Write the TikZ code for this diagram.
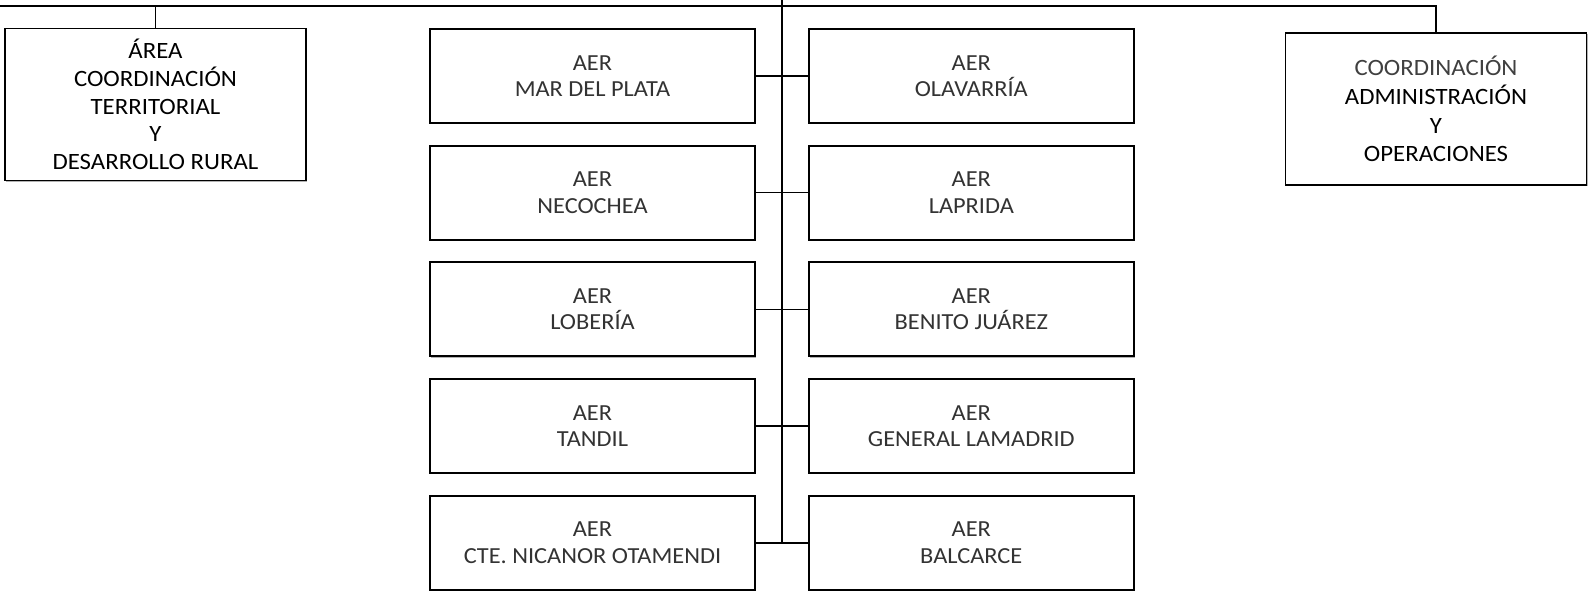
\documentclass[tikz,border=0pt]{standalone}
\usepackage{fontspec}
\setmainfont{Carlito}[FakeStretch=1.06]
\usetikzlibrary{positioning,calc,shadows}

\begin{document}
\begin{tikzpicture}[x=0.5pt,y=-0.5pt,
		boxshadow/.style={drop shadow={shadow xshift=0.6pt, shadow yshift=-0.6pt, fill=black!30, opacity=1}},
		aerbox/.style={draw, line width=0.9pt, fill=white, boxshadow, minimum width=162.5pt, minimum height=47pt,
				align=center, text=black!80, font=\fontsize{11.5}{13.2}\selectfont, inner sep=0pt},
		headbox/.style={draw, line width=0.9pt, fill=white, boxshadow, minimum width=150.5pt, minimum height=76pt,
				align=center, font=\fontsize{11.7}{14.4}\selectfont, inner sep=0pt},
		link/.style={line width=0.8pt}]
	\useasboundingbox (0,0) rectangle (1590,598);

	% head units
	\node[headbox, font=\fontsize{11.7}{13.9}\selectfont] (area) at (155.5,104.5)
		{ÁREA\\COORDINACIÓN\\TERRITORIAL\\Y\\DESARROLLO RURAL};
	\node[headbox] (coord) at (1436,109)
		{\textcolor{black!75}{COORDINACIÓN}\\ADMINISTRACIÓN\\Y\\OPERACIONES};

	% left column
	\node[aerbox] (mdp) at (592.5,76) {AER\\MAR DEL PLATA};
	\node[aerbox, below=10.45pt of mdp] (neco) {AER\\NECOCHEA};
	\node[aerbox, below=10.45pt of neco] (lobe) {AER\\LOBERÍA};
	\node[aerbox, below=10.45pt of lobe] (tand) {AER\\TANDIL};
	\node[aerbox, below=10.45pt of tand] (otam) {AER\\CTE. NICANOR OTAMENDI};

	% right column
	\node[aerbox, right=26pt of mdp] (olav) {AER\\OLAVARRÍA};
	\node[aerbox, right=26pt of neco] (lapr) {AER\\LAPRIDA};
	\node[aerbox, right=26pt of lobe] (juar) {AER\\BENITO JUÁREZ};
	\node[aerbox, right=26pt of tand] (lama) {AER\\GENERAL LAMADRID};
	\node[aerbox, right=26pt of otam] (balc) {AER\\BALCARCE};

	% trunk
	\coordinate (top) at ($(mdp.east)!0.5!(olav.west)$);
	\coordinate (trunktop) at (top |- 0,0);
	\coordinate (trunkbot) at (top |- otam.east);
	\draw[link] (trunktop) -- (trunkbot);
	\draw[link] (area.north) |- (0,6) -| (coord.north);

	% branches
	\foreach \l/\r in {mdp/olav,neco/lapr,lobe/juar,tand/lama,otam/balc}
		\draw[link] (\l.east) -- (\r.west);
\end{tikzpicture}
\end{document}
